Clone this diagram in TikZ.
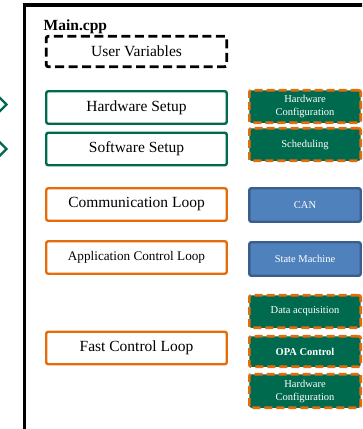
\documentclass[tikz,border=0pt]{standalone}
\usepackage{fontspec}
\setmainfont{Liberation Serif}
\definecolor{setupgreen}{RGB}{0,106,78}
\definecolor{looporange}{RGB}{228,108,10}
\definecolor{taskblue}{RGB}{79,129,189}
\definecolor{taskblueborder}{RGB}{60,94,140}

\begin{document}
\begin{tikzpicture}[
      x=1pt, y=-1pt,
      box/.style={rounded corners=2pt, minimum width=180.5pt, minimum height=32.5pt,
        align=center, inner sep=2pt, line width=2.4pt, fill=white,
        font=\fontsize{15.5}{18}\selectfont},
      varbox/.style={box, draw=black, line width=2.8pt, dash pattern=on 9pt off 4.5pt,
        minimum height=30.5pt},
      setupbox/.style={box, draw=setupgreen},
      loopbox/.style={box, draw=looporange},
      taskbox/.style={box, minimum width=111.4pt, text=white,
        font=\fontsize{10.5}{13}\selectfont},
      greentask/.style={taskbox, fill=setupgreen, draw=looporange, line width=2.6pt,
        dash pattern=on 8pt off 4pt},
      bluetask/.style={taskbox, fill=taskblue, draw=taskblueborder},
      chevron/.style={draw=setupgreen, line width=2.4pt}
    ]
    \path[use as bounding box, clip] (0,0) rectangle (362,429);

    % outer frame of the source file
    \draw[line width=3.2pt] (24.5,5) rectangle (420,460);
    \node[anchor=base west, inner sep=0pt, font=\bfseries\fontsize{15.5}{18}\selectfont]
      (mainlabel) at (43.5,30) {Main.cpp};

    % left column
    \node[varbox] (uservars) at (136.5,51.5) {User Variables};
    \node[setupbox] (hwsetup) at (136.5,107.5) {Hardware Setup};
    \node[setupbox] (swsetup) at (136.5,149) {Software Setup};
    \node[loopbox] (commloop) at (136.5,204.5) {Communication Loop};
    \node[loopbox, font=\fontsize{13.2}{16}\selectfont] (appctrl) at (136.5,257.5)
      {Application Control Loop};
    \node[loopbox] (fastctrl) at (136.5,348) {Fast Control Loop};

    % right column
    \node[greentask] (hwconfig) at (305,106.5) {Hardware\\Configuration};
    \node[greentask] (sched) at (305,144.5) {Scheduling};
    \node[bluetask, minimum height=33.5pt] (can) at (305,205) {CAN};
    \node[bluetask, minimum height=33.5pt] (statemach) at (305,259) {State Machine};
    \node[greentask] (dataacq) at (305,311.5) {Data acquisition};
    \node[greentask, minimum height=30.5pt, font=\bfseries\fontsize{10.5}{13}\selectfont]
      (opactrl) at (305,351.5) {OPA Control};
    \node[greentask, minimum height=33.5pt] (hwconfigfast) at (305,391)
      {Hardware\\Configuration};

    % arrow heads coming in from the left
    \draw[chevron] (-4,94) -- (6.5,104.5) -- (-4,115);
    \draw[chevron] (-4,138.5) -- (6.5,149) -- (-4,159.5);
  \end{tikzpicture}
\end{document}
